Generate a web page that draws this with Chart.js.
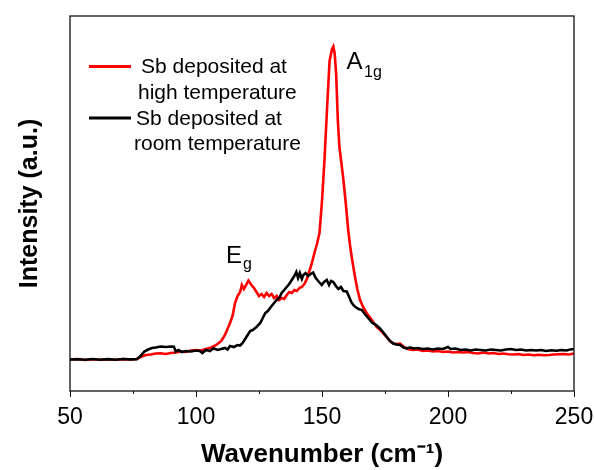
<!DOCTYPE html>
<html>
<head>
<meta charset="utf-8">
<script src="https://cdn.jsdelivr.net/npm/chart.js@4/dist/chart.umd.min.js"></script>
<style>
  html, body { margin: 0; padding: 0; background: #fff; }
  canvas { display: block; }
</style>
</head>
<body>
<canvas id="raman" width="594" height="470"></canvas>
<script>
// Raman spectra of Sb films, wavenumber (cm-1) vs intensity (a.u.)
const redShift = [50, 53, 56, 59, 62, 65, 68, 71, 74, 76.5, 78, 80, 82, 84, 86, 88, 90, 92, 94, 96, 98, 100,
  102, 104, 106, 108, 110, 111.5, 112.5, 113.5, 114.5, 115.5, 116.5, 117.5, 118.2, 119, 119.7, 120.8, 122, 123,
  124, 125, 126, 127, 128, 129, 130, 131, 132, 133, 134, 135, 136, 137, 138, 139, 140, 141, 142, 143, 144, 145,
  146, 147, 148, 149, 150, 151, 152, 153, 154, 154.5, 155, 155.6, 156.3, 156.9, 157.7, 158.5, 159.5, 160.4,
  161.1, 161.8, 162.5, 163.1, 164, 165.1, 166.3, 167.7, 169.5, 171.7, 173.5, 175.7, 177, 178.3, 179.5, 181,
  182.5, 184, 186, 188, 190, 192, 194, 196, 198, 200, 202, 204, 206, 208, 210, 212, 214, 216, 218, 220, 222,
  224, 226, 228, 230, 232, 234, 236, 238, 240, 242, 244, 246, 248, 250];
const redIntensity = [31.5, 32, 31, 31.8, 31.2, 31.8, 31.3, 31.9, 31.5, 32, 34, 36, 36.5, 37.5, 37.8, 37, 38,
  38.5, 39.5, 39, 40.5, 41, 40.5, 42, 43.5, 46, 50, 56, 62, 68, 75, 88, 95, 99, 106, 102, 105, 110.5, 106, 103,
  99, 95, 97, 94, 98, 95, 97, 93, 95, 91, 93, 92, 96, 99, 98, 101, 100, 103, 104, 107, 112, 120,
  128, 138, 147, 158, 190, 232, 282, 330, 342, 344.5, 338, 318, 270, 244, 228, 211, 186, 161,
  146, 134, 123, 114, 102, 91, 84, 78, 72, 64, 60, 54, 50, 47.5, 47, 47.5,
  44, 42, 41, 41.5, 40, 40.5, 39.5, 40, 39, 39.5, 38.5, 39, 38.5, 39, 38, 37.5, 38.5, 37.5, 38, 37, 37.5,
  36.8, 36.5, 37, 36, 36.5, 35.8, 36.3, 35.8, 36, 36.5, 36.8, 37, 36.5, 37.5];

const blackShift = [50, 53, 56, 59, 62, 65, 68, 71, 74, 76.5, 78, 79.5, 81, 82.5, 84, 86, 88, 90, 91.2, 92, 93,
  94.5, 96, 98, 100, 101.5, 102.5, 104, 105.5, 107, 108.5, 110, 111.5, 112.5, 113.5, 115, 116.5, 117.5, 118.5,
  119.5, 120.5, 121.5, 122.5, 124, 125.5, 126.5, 127.5, 128.5, 130, 131, 132, 133, 134, 135, 136, 137, 138,
  139, 139.8, 140.5, 141.2, 142, 142.6, 143.5, 144.5, 145.5, 146.5, 147.5, 148.5, 149.9, 150.8, 151.9, 152.8,
  153.6, 154.5, 155.5, 156.5, 157.5, 158.5, 159.8, 160.8, 161.6, 162.4, 163.3, 164.5, 165.8, 167, 168, 169,
  170, 171.5, 173, 174.5, 175.7, 177, 178.3, 179.5, 181, 182.3, 183.6, 185, 186.5, 188, 190, 192, 194, 196,
  198, 200, 201, 203, 205, 207, 209, 211, 213, 215, 217, 219, 221, 223, 225, 227, 229, 231, 233, 235, 237,
  239, 241, 243, 245, 247, 248.5, 250];
const blackIntensity = [31.5, 31.8, 31.2, 32, 31.3, 31.9, 31.2, 32, 31.6, 31.8, 35, 39.5, 41.5, 43, 43.5, 44.5,
  44, 44.5, 44.3, 39.5, 41, 39, 40, 39.5, 40.5, 40, 38, 41, 40, 42.7, 41, 42, 43, 41.5, 45, 44, 46, 45.5, 48,
  52, 56, 60, 61, 64, 68, 73, 78, 80, 85, 88, 91, 93, 98, 101, 104, 107, 111,
  115, 119, 113, 118, 112, 116, 118, 115, 117, 118.5, 113, 110, 106, 109, 111, 106,
  110, 109, 105, 102, 104, 100, 99.5, 94, 89, 86, 84, 82, 81, 77, 74, 71,
  68, 66, 62.5, 58, 54, 50, 47.5, 46.5, 46, 43.5, 42.7, 43.5, 42.5, 43, 42, 42.5, 41.5, 42.5,
  42, 44, 42, 42.5, 41, 41.5, 40.5, 41.5, 41, 40.5, 41.5, 41, 40.5, 41.5, 42, 41, 41.5, 40.5, 41, 40.5, 41,
  40, 40.8, 40.3, 41, 40.5, 41.5, 42];

const xTicks = [50, 100, 150, 200, 250];
const xMinorTicks = [75, 125, 175, 225];

const FONT = "'Liberation Sans', Arial, sans-serif";

function toPoints(xs, ys) {
  return xs.map((x, i) => ({ x: x, y: ys[i] }));
}

// frame box, minor ticks, legend and peak labels
const decorations = {
  id: 'decorations',
  afterDraw(chart) {
    const { ctx, chartArea: a, scales } = chart;
    ctx.save();

    ctx.strokeStyle = '#111';
    ctx.lineWidth = 1.3;
    ctx.strokeRect(a.left, a.top, a.right - a.left, a.bottom - a.top);

    ctx.lineWidth = 1;
    xMinorTicks.forEach(v => {
      const px = Math.round(scales.x.getPixelForValue(v)) + 0.5;
      ctx.beginPath();
      ctx.moveTo(px, a.bottom);
      ctx.lineTo(px, a.bottom + 3);
      ctx.stroke();
    });

    // legend
    ctx.fillStyle = '#000';
    ctx.font = '21px ' + FONT;
    ctx.textBaseline = 'alphabetic';
    ctx.textAlign = 'left';
    const entries = [
      { color: '#ff0000', y: 66.5, lines: [['Sb deposited at', 141, 73], ['high temperature', 138, 98.5]] },
      { color: '#000000', y: 118, lines: [['Sb deposited at', 136, 124.5], ['room temperature', 134, 150]] }
    ];
    entries.forEach(e => {
      ctx.strokeStyle = e.color;
      ctx.lineWidth = 2.8;
      ctx.beginPath();
      ctx.moveTo(89, e.y);
      ctx.lineTo(131, e.y);
      ctx.stroke();
      e.lines.forEach(([t, x, y]) => ctx.fillText(t, x, y));
    });

    // peak labels
    ctx.font = '24px ' + FONT;
    ctx.fillText('E', 226, 263);
    ctx.fillText('A', 346.5, 69);
    ctx.font = '16px ' + FONT;
    ctx.fillText('g', 243, 269);
    ctx.fillText('1g', 364, 77);

    ctx.restore();
  }
};

new Chart(document.getElementById('raman'), {
  type: 'line',
  data: {
    datasets: [
      {
        label: 'Sb deposited at room temperature',
        data: toPoints(blackShift, blackIntensity),
        borderColor: '#000000',
        borderWidth: 2.6,
        pointRadius: 0,
        tension: 0,
        order: 0
      },
      {
        label: 'Sb deposited at high temperature',
        data: toPoints(redShift, redIntensity),
        borderColor: '#ff0000',
        borderWidth: 2.6,
        pointRadius: 0,
        tension: 0,
        order: 1
      }
    ]
  },
  options: {
    responsive: false,
    animation: false,
    layout: { padding: { top: 16, right: 20, bottom: 0, left: 0 } },
    plugins: {
      legend: { display: false },
      tooltip: { enabled: false }
    },
    scales: {
      x: {
        type: 'linear',
        min: 50,
        max: 250,
        afterBuildTicks: s => { s.ticks = xTicks.map(v => ({ value: v })); },
        afterFit: s => {
          s.height = 79;
          s.paddingLeft = 0;
          s.paddingRight = 0;
        },
        ticks: { color: '#000', padding: 7, font: { family: FONT, size: 23 } },
        grid: { drawOnChartArea: false, drawTicks: true, tickLength: 6, color: '#111', lineWidth: 1 },
        border: { display: false },
        title: {
          display: true,
          text: 'Wavenumber (cm\u207B\u00B9)',
          color: '#000',
          font: { family: FONT, size: 26, weight: 'bold' },
          padding: { top: 0, bottom: 0 }
        }
      },
      y: {
        min: 0,
        max: 375,
        afterFit: s => { s.width = 70; },
        ticks: { display: false },
        grid: { display: false, drawTicks: false },
        border: { display: false },
        title: {
          display: true,
          text: 'Intensity (a.u.)',
          color: '#000',
          font: { family: FONT, size: 25, weight: 'bold' },
          padding: { top: 15, bottom: 0 }
        }
      }
    }
  },
  plugins: [decorations]
});
</script>
</body>
</html>
